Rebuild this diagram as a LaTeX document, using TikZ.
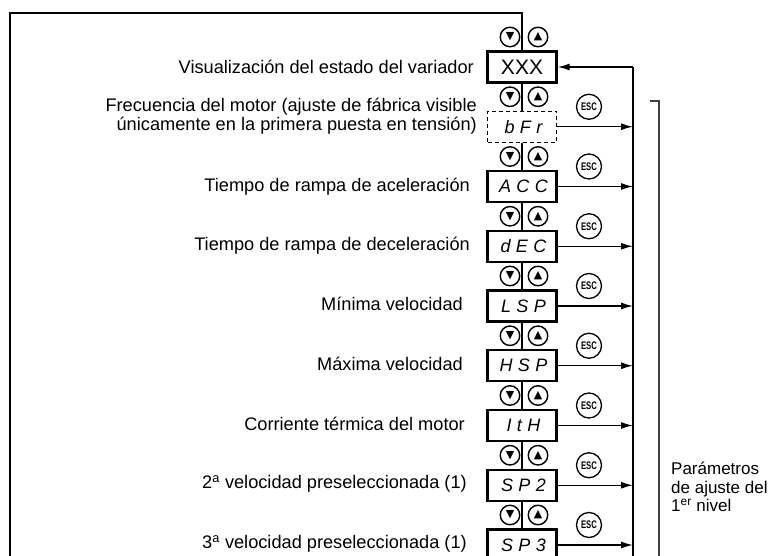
\documentclass[tikz,border=0pt]{standalone}
\usepackage{fontspec}
\setmainfont{Liberation Sans}
\newfontfamily\symfont{DejaVu Sans}
\usetikzlibrary{arrows.meta}
\begin{document}
\begin{tikzpicture}[x=1pt,y=-1pt,
  lbl/.style={anchor=east, font=\fontsize{18.2}{19.5}\selectfont, inner sep=0, align=right},
  disp/.style={draw, line width=2.4pt, minimum width=69pt, minimum height=31pt, inner sep=0,
    font=\fontsize{18}{18}\selectfont\itshape\addfontfeature{LetterSpace=30}},
  dispdash/.style={disp, line width=1.1pt, dash pattern=on 4pt off 3pt},
  btn/.style={draw, circle, line width=1.4pt, minimum size=19.5pt, inner sep=0,
    font=\symfont\fontsize{11}{11}\selectfont},
  escb/.style={draw, circle, line width=1.3pt, minimum size=25pt, inner sep=0,
    font=\fontsize{11}{11}\selectfont\bfseries},
  conn/.style={line width=1.4pt},
  arr/.style={conn, -{Latex[length=12pt,width=7pt]}},
]
\useasboundingbox (0,0) rectangle (782,556);

% display boxes
\node[disp, font=\fontsize{21}{21}\selectfont] (b0) at (522,67) {XXX};
\node[dispdash] (b1) at (522,126.75) {\hspace{3pt}bFr};
\node[disp] (b2) at (522,186.5) {\hspace{3pt}ACC};
\node[disp] (b3) at (522,246.25) {\hspace{3pt}dEC};
\node[disp] (b4) at (522,306) {\hspace{3pt}LSP};
\node[disp] (b5) at (522,365.75) {\hspace{3pt}HSP};
\node[disp] (b6) at (522,425.5) {\hspace{3pt}ItH};
\node[disp] (b7) at (522,485.25) {\hspace{3pt}SP2};
\node[disp] (b8) at (522,545) {\hspace{3pt}SP3};

% arrow buttons
\foreach \i/\y in {0/37,1/96.75,2/156.5,3/216.25,4/276,5/335.75,6/395.5,7/455.25,8/515}{
  \node[btn] (d\i) at (510,\y) {▼};
  \node[btn] (u\i) at (538,\y) {▲};
}

% ESC buttons
\foreach \i/\y in {1/106.75,2/166.5,3/226.25,4/286,5/345.75,6/405.5,7/465.25,8/525}{
  \node[escb] (e\i) at (589,\y) {\scalebox{0.7}[1]{ESC}};
}

% labels
\node[lbl] (l0) at (474,67) {Visualización del estado del variador};
\node[lbl] (l1) at (477,116) {Frecuencia del motor (ajuste de fábrica visible\\únicamente en la primera puesta en tensión)};
\node[lbl] (l2) at (470,187) {Tiempo de rampa de aceleración};
\node[lbl] (l3) at (470,246) {Tiempo de rampa de deceleración};
\node[lbl] (l4) at (463,304) {Mínima velocidad};
\node[lbl] (l5) at (463,364) {Máxima velocidad};
\node[lbl] (l6) at (465,424) {Corriente térmica del motor};
\node[lbl] (l7) at (467,484) {2\textsuperscript{a} velocidad preseleccionada (1)};
\node[lbl] (l8) at (467,544) {3\textsuperscript{a} velocidad preseleccionada (1)};

\node[anchor=north west, inner sep=0, align=left, font=\fontsize{17}{18.5}\selectfont] (par) at (671,462)
  {Parámetros\\de ajuste del\\1\textsuperscript{er} nivel};

% frame
\coordinate (fbl) at (10,556);
\coordinate (ftl) at (10,13);
\coordinate (ftr) at (522,13);
\draw[conn] (fbl) -- (ftl) -- (ftr) -- (b0.north);

% centre line between boxes
\foreach \i/\j in {0/1,1/2,2/3,3/4,4/5,5/6,6/7,7/8}{
  \draw[conn] (b\i.south) -- (b\j.north);
}

% bus
\coordinate (bt) at (633,67);
\coordinate (bb) at (633,556);
\draw[conn] (bb) -- (bt);
\draw[arr] (bt) -- (b0.east);
\foreach \i in {1,...,8}{
  \draw[arr] (b\i.east) -- (b\i.east -| bt);
}

% bracket
\coordinate (k1) at (650,101);
\coordinate (k2) at (659,101);
\coordinate (k3) at (659,556);
\draw[line width=1.6pt, black!75] (k1) -- (k2) -- (k3);
\end{tikzpicture}
\end{document}
